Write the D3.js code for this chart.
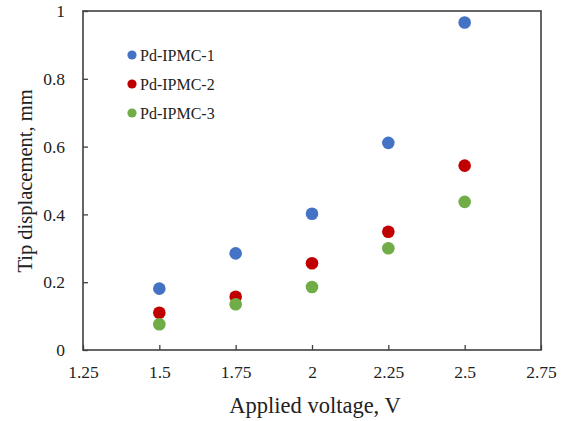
<!DOCTYPE html>
<html>
<head>
<meta charset="utf-8">
<script src="https://cdn.jsdelivr.net/npm/d3@7"></script>
<style>
  body { margin: 0; background: #fff; }
  svg { display: block; }
</style>
</head>
<body>
<div id="chart"></div>
<script>
// voltages (V)
const voltages = [1.5, 1.75, 2.0, 2.25, 2.5];
// tip displacement (mm) per sample
const ipmc1 = [0.181, 0.285, 0.402, 0.611, 0.966];
const ipmc2 = [0.110, 0.157, 0.256, 0.349, 0.544];
const ipmc3 = [0.076, 0.135, 0.186, 0.300, 0.437];
const seriesNames = ["Pd-IPMC-1", "Pd-IPMC-2", "Pd-IPMC-3"];
const xTicks = [1.25, 1.5, 1.75, 2, 2.25, 2.5, 2.75];
const yTicks = [0, 0.2, 0.4, 0.6, 0.8, 1];

const series = [
  { name: seriesNames[0], values: ipmc1, color: "#4472C4" },
  { name: seriesNames[1], values: ipmc2, color: "#C00000" },
  { name: seriesNames[2], values: ipmc3, color: "#70AD47" }
];

const width = 561, height = 421;
const margin = { top: 11, right: 20, bottom: 71, left: 83 };
const font = "'Liberation Serif', 'Times New Roman', serif";

const svg = d3.select("#chart").append("svg")
  .attr("width", width).attr("height", height)
  .style("font-family", font);

const x = d3.scaleLinear().domain([1.25, 2.75]).range([margin.left, width - margin.right]);
const y = d3.scaleLinear().domain([0, 1]).range([height - margin.bottom, margin.top]);

const axisColor = "#404040";

// x axis (ticks pointing inward)
const gx = svg.append("g")
  .attr("transform", `translate(0,${height - margin.bottom})`)
  .call(d3.axisBottom(x).tickValues(xTicks).tickSizeInner(-5).tickSizeOuter(0)
    .tickPadding(16).tickFormat(d3.format("")));
gx.select(".domain").remove();
gx.selectAll("line").attr("stroke", axisColor).attr("stroke-width", 1.3);
gx.selectAll("text").style("font-family", font).attr("font-size", 17.5).attr("fill", "#222");

// y axis
const gy = svg.append("g")
  .attr("transform", `translate(${margin.left},0)`)
  .call(d3.axisLeft(y).tickValues(yTicks).tickSizeInner(-5).tickSizeOuter(0)
    .tickPadding(18).tickFormat(d3.format("")));
gy.select(".domain").remove();
gy.selectAll("line").attr("stroke", axisColor).attr("stroke-width", 1.3);
gy.selectAll("text").style("font-family", font).attr("font-size", 17.5).attr("fill", "#222");

// plot frame
svg.append("rect")
  .attr("x", margin.left).attr("y", margin.top)
  .attr("width", width - margin.left - margin.right)
  .attr("height", height - margin.top - margin.bottom)
  .attr("fill", "none").attr("stroke", axisColor).attr("stroke-width", 1.6);

// points
series.forEach(s => {
  svg.append("g").selectAll("circle")
    .data(s.values)
    .join("circle")
    .attr("cx", (d, i) => x(voltages[i]))
    .attr("cy", d => y(d))
    .attr("r", 6.3)
    .attr("fill", s.color);
});

// legend
const legend = svg.append("g").attr("transform", "translate(132,55)");
series.forEach((s, i) => {
  const row = legend.append("g").attr("transform", `translate(0,${i * 29})`);
  row.append("circle").attr("r", 4.6).attr("fill", s.color);
  row.append("text").attr("x", 8).attr("dy", "0.35em")
    .style("font-family", font)
    .attr("font-size", 16).attr("fill", "#222").text(s.name);
});

// axis titles
svg.append("text")
  .attr("x", 315)
  .attr("y", 413)
  .attr("text-anchor", "middle")
  .style("font-family", font)
  .attr("font-size", 22.5).attr("fill", "#222")
  .text("Applied voltage, V");

svg.append("text")
  .attr("transform", `translate(32,181) rotate(-90)`)
  .attr("text-anchor", "middle")
  .style("font-family", font)
  .attr("font-size", 20.5).attr("fill", "#222")
  .text("Tip displacement, mm");
</script>
</body>
</html>
